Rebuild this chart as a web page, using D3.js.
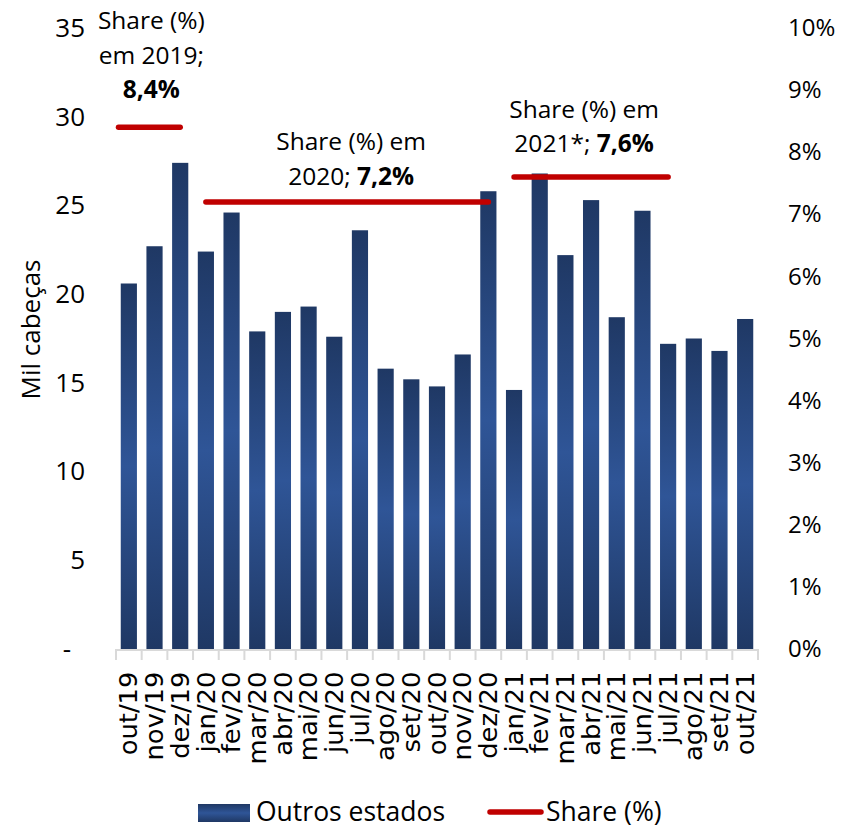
<!DOCTYPE html>
<html>
<head>
<meta charset="utf-8">
<script src="https://cdn.jsdelivr.net/npm/d3@7"></script>
<style>
  body { margin: 0; background: #fff; }
  text { font-family: 'Open Sans', sans-serif; fill: #000; }
</style>
</head>
<body>
<div id="chartContainer"></div>
<script>
// Data
const months = ['out/19', 'nov/19', 'dez/19', 'jan/20', 'fev/20', 'mar/20', 'abr/20', 'mai/20',
  'jun/20', 'jul/20', 'ago/20', 'set/20', 'out/20', 'nov/20', 'dez/20', 'jan/21', 'fev/21',
  'mar/21', 'abr/21', 'mai/21', 'jun/21', 'jul/21', 'ago/21', 'set/21', 'out/21'];
const outrosEstados = [20.6, 22.7, 27.4, 22.4, 24.6, 17.9, 19.0, 19.3, 17.6, 23.6, 15.8, 15.2,
  14.8, 16.6, 25.8, 14.6, 26.8, 22.2, 25.3, 18.7, 24.7, 17.2, 17.5, 16.8, 18.6];
const shareYears = ['2019', '2020', '2021*'];
const shareValues = [0.084, 0.072, 0.076];
const shareFrom = ['out/19', 'jan/20', 'jan/21'];
const shareTo = ['dez/19', 'dez/20', 'jul/21'];
const leftTicks = [0, 5, 10, 15, 20, 25, 30, 35];
const rightTicks = [0, 0.01, 0.02, 0.03, 0.04, 0.05, 0.06, 0.07, 0.08, 0.09, 0.10];

// Dimensions
const width = 846;
const height = 829;
const margin = { top: 28, bottom: 180, left: 116, right: 88 };
const plotBottom = height - margin.bottom;

const svg = d3
  .select('#chartContainer')
  .append('svg')
  .attr('width', width)
  .attr('height', height);

// bar gradient - dark at the ends, lighter in the middle
const grad = svg
  .append('defs')
  .append('linearGradient')
  .attr('id', 'barGrad')
  .attr('x1', '0%')
  .attr('y1', '0%')
  .attr('x2', '0%')
  .attr('y2', '100%');
grad.append('stop').attr('offset', '0%').attr('stop-color', '#1f3864');
grad.append('stop').attr('offset', '50%').attr('stop-color', '#2f5597');
grad.append('stop').attr('offset', '100%').attr('stop-color', '#1f3864');

// Scales
const x = d3
  .scaleBand()
  .domain(months)
  .range([margin.left, width - margin.right])
  .paddingInner(0.37)
  .paddingOuter(0.185);
const y = d3.scaleLinear().domain([0, 35]).range([plotBottom, margin.top]);
const y2 = d3.scaleLinear().domain([0, 0.10]).range([plotBottom, margin.top]);
const step = x.step();
const xStart = margin.left;
const center = m => x(m) + x.bandwidth() / 2;

// Bars
svg
  .selectAll('.bar')
  .data(outrosEstados)
  .enter()
  .append('rect')
  .attr('class', 'bar')
  .attr('x', (d, i) => x(months[i]))
  .attr('y', d => y(d))
  .attr('width', x.bandwidth())
  .attr('height', d => plotBottom - y(d))
  .attr('fill', 'url(#barGrad)');

// X axis: gray baseline with ticks at category boundaries
const xAxisG = svg.append('g').attr('class', 'x axis');
xAxisG
  .append('line')
  .attr('x1', xStart)
  .attr('x2', width - margin.right)
  .attr('y1', plotBottom + 1)
  .attr('y2', plotBottom + 1)
  .attr('stroke', '#d9d9d9')
  .attr('stroke-width', 2);
xAxisG
  .selectAll('.xtick')
  .data(d3.range(months.length + 1))
  .enter()
  .append('line')
  .attr('x1', i => xStart + i * step)
  .attr('x2', i => xStart + i * step)
  .attr('y1', plotBottom)
  .attr('y2', plotBottom + 11)
  .attr('stroke', '#d9d9d9')
  .attr('stroke-width', 2);

// month labels, slightly stretched along the text like the original
svg
  .append('g')
  .attr('transform', `translate(0,${plotBottom})`)
  .call(d3.axisBottom(x).tickSize(0))
  .call(g => g.select('.domain').remove())
  .selectAll('text')
  .attr('transform', 'rotate(-90) scale(1.075,1)')
  .attr('x', -21)
  .attr('y', 0)
  .attr('dy', '0.36em')
  .style('text-anchor', 'end')
  .style('font-family', "'DejaVu Sans', sans-serif")
  .style('font-size', '24px')
  .attr('fill', '#000');

// Left axis
svg
  .append('g')
  .attr('transform', `translate(${margin.left},0)`)
  .call(d3.axisLeft(y).tickValues(leftTicks).tickSize(0).tickPadding(31)
    .tickFormat(d => (d === 0 ? '-' : d)))
  .call(g => g.select('.domain').remove())
  .selectAll('text')
  .style('font-size', '26px')
  .attr('fill', '#000')
  .attr('dx', d => (d === 0 ? -14 : 0));

// Right axis
svg
  .append('g')
  .attr('transform', `translate(${width - margin.right},0)`)
  .call(d3.axisRight(y2).tickValues(rightTicks).tickSize(0).tickPadding(30)
    .tickFormat(d3.format('.0%')))
  .call(g => g.select('.domain').remove())
  .selectAll('text')
  .style('font-size', '24px')
  .attr('fill', '#000');

// Y axis title
svg
  .append('text')
  .attr('transform', `translate(40,${(margin.top + plotBottom) / 2 - 9}) rotate(-90)`)
  .style('text-anchor', 'middle')
  .style('font-size', '26px')
  .text('Mil cabeças');

// Share lines
const shareStart = (m) => (m === months[0] ? xStart + 2.5 : center(m));
svg
  .selectAll('.share')
  .data(shareValues)
  .enter()
  .append('line')
  .attr('class', 'share')
  .attr('x1', (d, i) => shareStart(shareFrom[i]))
  .attr('x2', (d, i) => center(shareTo[i]))
  .attr('y1', d => y2(d))
  .attr('y2', d => y2(d))
  .attr('stroke', '#c00000')
  .attr('stroke-width', 5.5)
  .attr('stroke-linecap', 'round');

// Share annotations: lines of text, the last one ends with the bold value
const fmtPct = v => d3.format('.1f')(v * 100).replace('.', ',') + '%';
const labelLines = [
  [['Share (%)'], [`em ${shareYears[0]};`], ['', fmtPct(shareValues[0])]],
  [['Share (%) em'], [`${shareYears[1]}; `, fmtPct(shareValues[1])]],
  [['Share (%) em'], [`${shareYears[2]}; `, fmtPct(shareValues[2])]]
];
const labelLayout = [
  { dx: 2, dy: -29 },
  { dx: 4, dy: -17 },
  { dx: -7, dy: -25 }
];
const lineGap = 34.5;
labelLines.forEach((lines, i) => {
  const cx = (shareStart(shareFrom[i]) + center(shareTo[i])) / 2 + labelLayout[i].dx;
  const baseY = y2(shareValues[i]) + labelLayout[i].dy;
  const t = svg
    .append('text')
    .attr('class', 'share-label')
    .style('text-anchor', 'middle')
    .style('font-size', '24.5px');
  lines.forEach((parts, j) => {
    const ly = baseY - (lines.length - 1 - j) * lineGap;
    const line = t.append('tspan').attr('x', cx).attr('y', ly);
    if (parts[0]) line.text(parts[0]);
    if (parts[1]) {
      const b = parts[0] ? t.append('tspan') : line;
      b.style('font-weight', 'bold').text(parts[1]);
    }
  });
});

// Legend
const legend = svg.append('g').attr('class', 'legend');
legend
  .append('rect')
  .attr('x', 198)
  .attr('y', 804)
  .attr('width', 52)
  .attr('height', 18)
  .attr('fill', 'url(#barGrad)');
legend
  .append('text')
  .attr('x', 256)
  .attr('y', 821)
  .style('font-size', '26.5px')
  .text('Outros estados');
legend
  .append('line')
  .attr('x1', 490)
  .attr('x2', 541)
  .attr('y1', 812)
  .attr('y2', 812)
  .attr('stroke', '#c00000')
  .attr('stroke-width', 5.5)
  .attr('stroke-linecap', 'round');
legend
  .append('text')
  .attr('x', 546)
  .attr('y', 821)
  .style('font-size', '26.5px')
  .text('Share (%)');
</script>
</body>
</html>
